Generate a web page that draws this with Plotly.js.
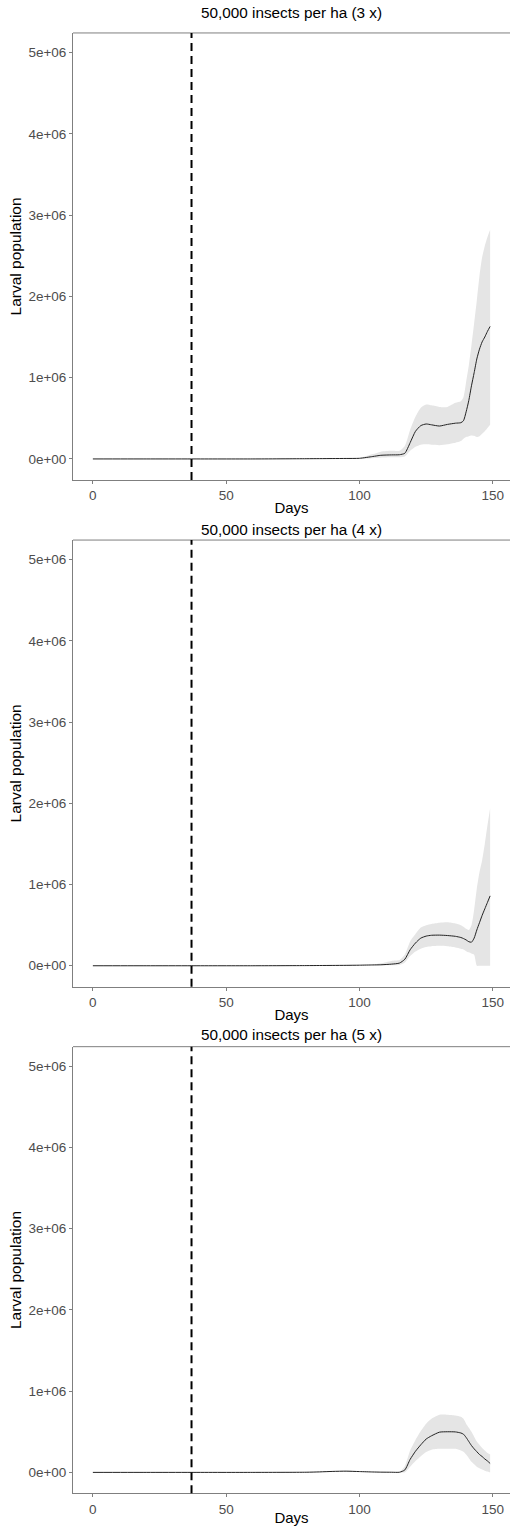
<!DOCTYPE html>
<html>
<head>
<meta charset="utf-8">
<script src="https://cdn.plot.ly/plotly-3.0.1.min.js"></script>
<style>html,body{margin:0;padding:0;background:#fff;}#chart{width:510px;height:1526px;}</style>
</head>
<body>
<div id="chart"></div>
<script>
// Days sampled along the simulation
const days = [0, 20, 37, 60, 80, 85, 90, 95, 100, 105, 108, 112, 115, 117, 119, 121, 123, 125, 127, 130, 133, 136, 138, 139, 140, 141, 142, 143, 144, 145, 146, 147, 148, 149];

// Values in millions of larvae
const mean3x  = [0,0,0,0, 0.003,0.004,0.005,0.006,0.008, 0.03,0.045,0.05,0.052, 0.07,0.2,0.34,0.41,0.43,0.42, 0.405,0.425,0.44,0.446, 0.47,0.58,0.72,0.9,1.06,1.23,1.35,1.44,1.5,1.57,1.63];
const upper3x = [0.003,0.003,0.003,0.003, 0.006,0.007,0.008,0.009,0.012, 0.06,0.09,0.1,0.1, 0.16,0.36,0.52,0.63,0.67,0.66, 0.64,0.64,0.69,0.71, 0.76,0.95,1.15,1.4,1.67,1.95,2.25,2.48,2.62,2.73,2.82];
const lower3x = [0,0,0,0, 0,0,0,0.001,0.003, 0.01,0.015,0.02,0.02, 0.03,0.1,0.15,0.175,0.18,0.175, 0.17,0.18,0.2,0.22, 0.25,0.27,0.28,0.29,0.285,0.27,0.28,0.31,0.34,0.38,0.42];

const mean4x  = [0,0,0,0, 0.002,0.003,0.004,0.005,0.007, 0.01,0.012,0.02,0.033, 0.08,0.197,0.28,0.34,0.365,0.375, 0.377,0.372,0.362,0.348, 0.335,0.318,0.296,0.29,0.34,0.44,0.53,0.62,0.7,0.78,0.86];
const upper4x = [0.003,0.003,0.003,0.003, 0.005,0.006,0.007,0.008,0.01, 0.015,0.03,0.06,0.07, 0.14,0.3,0.39,0.47,0.5,0.515, 0.53,0.535,0.52,0.5, 0.48,0.455,0.44,0.5,0.69,0.95,1.15,1.3,1.5,1.73,1.94];
const lower4x = [0,0,0,0, 0,0,0,0.001,0.003, 0.005,0.005,0.007,0.01, 0.04,0.12,0.175,0.21,0.23,0.24, 0.245,0.24,0.225,0.21, 0.2,0.18,0.165,0.15,0.135,0,0,0,0,0,0];

const mean5x  = [0,0,0,0, 0.002,0.006,0.012,0.015,0.01, 0.005,0.003,0.002,0.002, 0.03,0.16,0.26,0.34,0.41,0.45, 0.495,0.5,0.498,0.485, 0.47,0.43,0.38,0.33,0.29,0.255,0.22,0.195,0.165,0.14,0.11];
const upper5x = [0.003,0.003,0.003,0.003, 0.005,0.009,0.016,0.02,0.015, 0.008,0.006,0.005,0.005, 0.08,0.27,0.4,0.51,0.6,0.66, 0.71,0.71,0.7,0.685, 0.66,0.6,0.55,0.5,0.44,0.38,0.34,0.3,0.27,0.24,0.22];
const lower5x = [0,0,0,0, 0,0.003,0.008,0.01,0.006, 0.002,0.001,0,0, 0,0.07,0.14,0.2,0.25,0.28, 0.29,0.29,0.29,0.27, 0.255,0.22,0.175,0.13,0.1,0.07,0.05,0.035,0.02,0.01,0];

const panelTitles = ["50,000 insects per ha (3 x)", "50,000 insects per ha (4 x)", "50,000 insects per ha (5 x)"];
const releaseDay = 37;
const yTickVals = [0, 1e6, 2e6, 3e6, 4e6, 5e6];
const yTickText = ["0e+00", "1e+06", "2e+06", "3e+06", "4e+06", "5e+06"];
const xTickVals = [0, 50, 100, 150];

const series = [
  {mean: mean3x, upper: upper3x, lower: lower3x},
  {mean: mean4x, upper: upper4x, lower: lower4x},
  {mean: mean5x, upper: upper5x, lower: lower5x}
];

const M = 1e6;
const font = "Liberation Sans, Arial, sans-serif";
const domains = [[0.6855, 0.9784], [0.3534, 0.6461], [0.0214, 0.3141]];
const titleY = [0.9915, 0.6533, 0.3218];
const axisGrey = "#7f7f7f";

const traces = [];
const shapes = [];
const annotations = [];
const layout = {
  width: 510, height: 1526,
  margin: {l: 73, r: 0, t: 0, b: 0},
  paper_bgcolor: "#fff", plot_bgcolor: "#fff",
  showlegend: false,
  font: {family: font}
};

series.forEach((s, i) => {
  const n = i === 0 ? "" : String(i + 1);
  const xa = "x" + n, ya = "y" + n;
  traces.push({x: days, y: s.upper.map(v => v * M), xaxis: xa, yaxis: ya, mode: "lines",
    line: {width: 0, shape: "spline", smoothing: 0.6}, hoverinfo: "skip"});
  traces.push({x: days, y: s.lower.map(v => v * M), xaxis: xa, yaxis: ya, mode: "lines",
    fill: "tonexty", fillcolor: "rgb(229,229,229)",
    line: {width: 0, shape: "spline", smoothing: 0.6}, hoverinfo: "skip"});
  traces.push({x: days, y: s.mean.map(v => v * M), xaxis: xa, yaxis: ya, mode: "lines",
    line: {color: "#222", width: 1, shape: "spline", smoothing: 0.6}});

  layout["xaxis" + n] = {
    domain: [0, 1], anchor: ya, range: [-7.45, 156.45],
    showline: true, linecolor: axisGrey, linewidth: 1,
    showgrid: false, zeroline: false,
    ticks: "outside", ticklen: 3, tickcolor: axisGrey,
    tickvals: xTickVals, tickfont: {size: 13.5, color: "#4d4d4d", family: font},
    title: {text: "Days", font: {size: 15, color: "#000", family: font}, standoff: 0}
  };
  layout["yaxis" + n] = {
    domain: domains[i], anchor: xa, range: [-0.258e6, 5.24e6],
    showline: true, linecolor: axisGrey, linewidth: 1,
    showgrid: false, zeroline: false,
    ticks: "outside", ticklen: 3, tickcolor: axisGrey,
    tickvals: yTickVals, ticktext: yTickText,
    tickfont: {size: 13.5, color: "#4d4d4d", family: font},
    title: {text: "Larval population", font: {size: 15.5, color: "#000", family: font}, standoff: 2}
  };
  shapes.push({type: "line", xref: xa + " domain", yref: ya + " domain", x0: 0, x1: 1, y0: 1, y1: 1,
    line: {color: axisGrey, width: 1}});
  shapes.push({type: "line", xref: xa, yref: ya + " domain", x0: releaseDay, x1: releaseDay, y0: 0, y1: 1,
    line: {color: "#000", width: 2, dash: "8px,5px"}});
  annotations.push({text: panelTitles[i], xref: "paper", yref: "paper", x: 0.5, y: titleY[i],
    xanchor: "center", yanchor: "middle", showarrow: false,
    font: {size: 15.3, color: "#000", family: font}});
});

layout.shapes = shapes;
layout.annotations = annotations;

Plotly.newPlot("chart", traces, layout, {displayModeBar: false, staticPlot: true});
</script>
</body>
</html>
